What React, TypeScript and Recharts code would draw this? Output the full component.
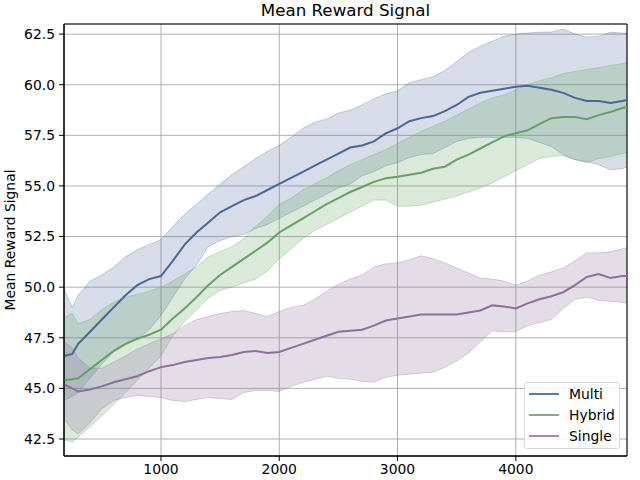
import React from 'react'
import {
  ComposedChart, Area, Line, XAxis, YAxis, CartesianGrid, Legend, ReferenceArea,
} from 'recharts'

// training steps (x axis)
const steps = [
  180, 250, 300, 400, 500, 600, 700, 800, 900, 1000,
  1100, 1200, 1300, 1400, 1500, 1600, 1700, 1800, 1900, 2000,
  2100, 2200, 2300, 2400, 2500, 2600, 2700, 2800, 2900, 3000,
  3100, 3200, 3300, 3400, 3500, 3600, 3700, 3800, 3900, 4000,
  4100, 4200, 4300, 4400, 4500, 4600, 4700, 4800, 4900, 4940,
]

const multiMean = [
  46.6, 46.7, 47.2, 47.8, 48.4, 49.0, 49.6, 50.1, 50.4, 50.55,
  51.3, 52.1, 52.7, 53.2, 53.7, 54.0, 54.3, 54.5, 54.8, 55.1,
  55.4, 55.7, 56.0, 56.3, 56.6, 56.9, 57.0, 57.2, 57.6, 57.85,
  58.2, 58.35, 58.45, 58.7, 59.0, 59.4, 59.6, 59.7, 59.8, 59.9,
  59.95, 59.85, 59.75, 59.6, 59.35, 59.2, 59.2, 59.1, 59.2, 59.25,
]
const multiHigh = [
  49.9, 49.0, 49.6, 50.3, 50.6, 51.0, 51.5, 51.85, 52.1, 52.35,
  53.0, 53.6, 54.1, 54.6, 55.1, 55.55, 55.95, 56.35, 56.7, 57.0,
  57.4, 57.85, 58.15, 58.3, 58.6, 58.75, 59.0, 59.3, 59.55, 59.7,
  60.1, 60.25, 60.4, 60.7, 61.15, 61.6, 61.9, 62.15, 62.4, 62.5,
  62.55, 62.6, 62.6, 62.75, 62.5, 62.35, 62.4, 62.6, 62.55, 62.55,
]
const multiLow = [
  44.4, 44.6, 44.8, 45.5, 46.2, 46.8, 47.15, 47.45, 47.9, 48.6,
  49.5, 50.4, 51.1, 52.0, 52.3, 52.5, 52.6, 52.9, 53.1, 53.4,
  53.7, 54.0, 54.3, 54.6, 54.9, 55.1, 55.5, 55.7, 56.0, 56.15,
  56.4, 56.55, 56.6, 56.9, 57.2, 57.35, 57.4, 57.4, 57.4, 57.4,
  57.35, 57.15, 56.95, 56.55, 56.3, 56.2, 56.05, 55.8, 55.85, 55.95,
]

const hybridMean = [
  45.4, 45.45, 45.5, 45.95, 46.4, 46.85, 47.2, 47.45, 47.65, 47.9,
  48.45, 48.95, 49.5, 50.1, 50.6, 51.0, 51.4, 51.8, 52.2, 52.7,
  53.05, 53.4, 53.75, 54.1, 54.4, 54.7, 54.95, 55.2, 55.38, 55.45,
  55.55, 55.65, 55.85, 55.95, 56.3, 56.55, 56.85, 57.15, 57.45, 57.6,
  57.75, 58.05, 58.35, 58.4, 58.4, 58.3, 58.5, 58.65, 58.85, 58.9,
]
const hybridHigh = [
  48.5, 48.7, 48.2, 48.4, 48.9, 49.25, 49.5, 49.65, 49.8, 50.0,
  50.3, 50.65, 51.0, 51.5, 51.75, 52.0, 52.4, 53.0, 53.5, 54.1,
  54.4, 54.8, 55.1, 55.4, 55.75, 56.05, 56.3, 56.55, 56.8, 57.1,
  57.4, 57.7, 57.95, 58.2, 58.5, 58.8, 59.1, 59.35, 59.5, 59.75,
  60.0, 60.2, 60.35, 60.55, 60.65, 60.75, 60.85, 60.95, 61.05, 61.1,
]
const hybridLow = [
  42.45, 42.35, 42.6, 43.1, 43.65, 44.2, 44.8, 45.4, 46.0, 46.6,
  47.6, 48.3, 48.9, 49.45, 49.85, 50.0, 50.2, 50.4, 50.8, 51.4,
  51.9, 52.4, 52.8, 53.1, 53.4, 53.7, 54.0, 54.3, 54.3, 54.0,
  54.0, 54.05, 54.2, 54.35, 54.5, 54.7, 54.9, 55.15, 55.45, 55.75,
  56.05, 56.35, 56.45, 56.5, 56.3, 56.15, 56.35, 56.45, 56.6, 56.65,
]

const singleMean = [
  45.2, 45.0, 44.85, 44.95, 45.1, 45.3, 45.45, 45.6, 45.85, 46.05,
  46.15, 46.3, 46.4, 46.5, 46.55, 46.65, 46.8, 46.85, 46.75, 46.8,
  47.0, 47.2, 47.4, 47.6, 47.8, 47.85, 47.9, 48.1, 48.35, 48.45,
  48.55, 48.65, 48.65, 48.65, 48.65, 48.75, 48.85, 49.1, 49.05, 48.95,
  49.2, 49.4, 49.55, 49.75, 50.1, 50.5, 50.65, 50.45, 50.55, 50.55,
]
const singleHigh = [
  47.3, 47.0, 46.5, 46.0, 46.0, 46.3, 46.6, 46.95, 47.2, 47.45,
  47.7, 48.1, 48.4, 48.55, 48.7, 48.8, 48.85, 48.7, 48.55, 48.8,
  49.0, 49.1, 49.4, 49.8, 50.15, 50.4, 50.6, 51.0, 51.15, 51.2,
  51.35, 51.55, 51.4, 51.2, 50.95, 50.7, 50.45, 50.4, 50.3, 50.1,
  50.3, 50.6, 50.75, 50.95, 51.3, 51.7, 51.7, 51.75, 51.9, 51.95,
]
const singleLow = [
  43.5, 42.95, 42.75, 43.3, 44.0, 44.4, 44.55, 44.65, 44.6, 44.55,
  44.4, 44.35, 44.45, 44.55, 44.5, 44.45, 44.8, 44.9, 44.9, 44.85,
  45.1, 45.3, 45.45, 45.6, 45.5, 45.45, 45.35, 45.3, 45.55, 45.65,
  45.7, 45.75, 45.8, 46.05, 46.35, 46.75, 47.3, 47.85, 47.8, 47.8,
  48.1, 48.25, 48.4, 48.95, 49.4, 49.5, 49.35, 49.3, 49.25, 49.2,
]

const xTicks = [1000, 2000, 3000, 4000]
const yTicks = [42.5, 45.0, 47.5, 50.0, 52.5, 55.0, 57.5, 60.0, 62.5]
const xDomain = [180, 4940]
const yDomain = [41.66, 63.0]

const FONT = '"DejaVu Sans", sans-serif'

const series = [
  { key: 'multi', name: 'Multi', line: '#47679b', band: '#4c6a9c', legend: '#5a78aa' },
  { key: 'hybrid', name: 'Hybrid', line: '#63a263', band: '#62a062', legend: '#7ab27a' },
  { key: 'single', name: 'Single', line: '#8d6f9d', band: '#8c6e9c', legend: '#a58bb1' },
]

const rows = steps.map((step, i) => ({
  step,
  multi: multiMean[i],
  multiBand: [multiLow[i], multiHigh[i]],
  hybrid: hybridMean[i],
  hybridBand: [hybridLow[i], hybridHigh[i]],
  single: singleMean[i],
  singleBand: [singleLow[i], singleHigh[i]],
}))

function YLabel({ viewBox }: any) {
  const cy = viewBox.y + viewBox.height / 2
  return (
    <text x={10} y={cy} transform={`rotate(-90, 10, ${cy})`} textAnchor="middle"
      dominantBaseline="central" fontSize={13.9} fill="#000" fontFamily={FONT}>
      Mean Reward Signal
    </text>
  )
}

function LegendBox() {
  return (
    <div style={{
      border: '1px solid #d8d8d8', borderRadius: 3, background: 'rgba(255,255,255,0.8)',
      fontFamily: FONT, fontSize: 13.9, color: '#000', boxSizing: 'border-box',
      width: 96, height: 67, paddingLeft: 4,
    }}>
      {series.map(s => (
        <div key={s.key} style={{ display: 'flex', alignItems: 'center', height: 21 }}>
          <span style={{ width: 30, height: 2, background: s.legend, display: 'inline-block' }} />
          <span style={{ marginLeft: 10 }}>{s.name}</span>
        </div>
      ))}
    </div>
  )
}

export default function App() {
  return (
    <div style={{ position: 'absolute', left: 0, top: 0, width: 640, height: 480, background: '#fff' }}>
      <div style={{
        position: 'absolute', left: 64, width: 563, top: 0, textAlign: 'center',
        fontFamily: FONT, fontSize: 16.7, lineHeight: '20px', color: '#000', zIndex: 2,
      }}>
        Mean Reward Signal
      </div>
      <ComposedChart width={640} height={480} data={rows}
        margin={{ top: 24, right: 13, bottom: 0, left: 0 }}>
        <CartesianGrid stroke="#b0b0b0" strokeWidth={1} />
        <XAxis dataKey="step" type="number" domain={xDomain} ticks={xTicks} allowDataOverflow
          height={24} tickSize={5} tickMargin={3} stroke="#000"
          tick={{ fontSize: 13.9, fill: '#000', fontFamily: FONT }} />
        <YAxis type="number" domain={yDomain} ticks={yTicks} allowDataOverflow
          width={64} tickSize={5} tickMargin={4} stroke="#000"
          tickFormatter={(v: number) => v.toFixed(1)}
          tick={{ fontSize: 13.9, fill: '#000', fontFamily: FONT }}
          label={<YLabel />} />
        {series.map(s => (
          <Area key={s.key + 'Band'} type="linear" dataKey={s.key + 'Band'} stroke={s.band}
            strokeOpacity={0.3} strokeWidth={1} fill={s.band} fillOpacity={0.23}
            isAnimationActive={false} legendType="none" />
        ))}
        {series.map(s => (
          <Line key={s.key} type="linear" dataKey={s.key} name={s.name} stroke={s.line}
            strokeWidth={2} dot={false} activeDot={false} isAnimationActive={false} />
        ))}
        <ReferenceArea x1={xDomain[0]} x2={xDomain[1]} y1={yDomain[0]} y2={yDomain[1]}
          fill="none" stroke="#000" strokeWidth={1} ifOverflow="visible" />
        <Legend layout="horizontal" verticalAlign="middle" align="center"
          wrapperStyle={{ left: 524, top: 382, width: 96, height: 67 }}
          content={() => <LegendBox />} />
      </ComposedChart>
    </div>
  )
}
